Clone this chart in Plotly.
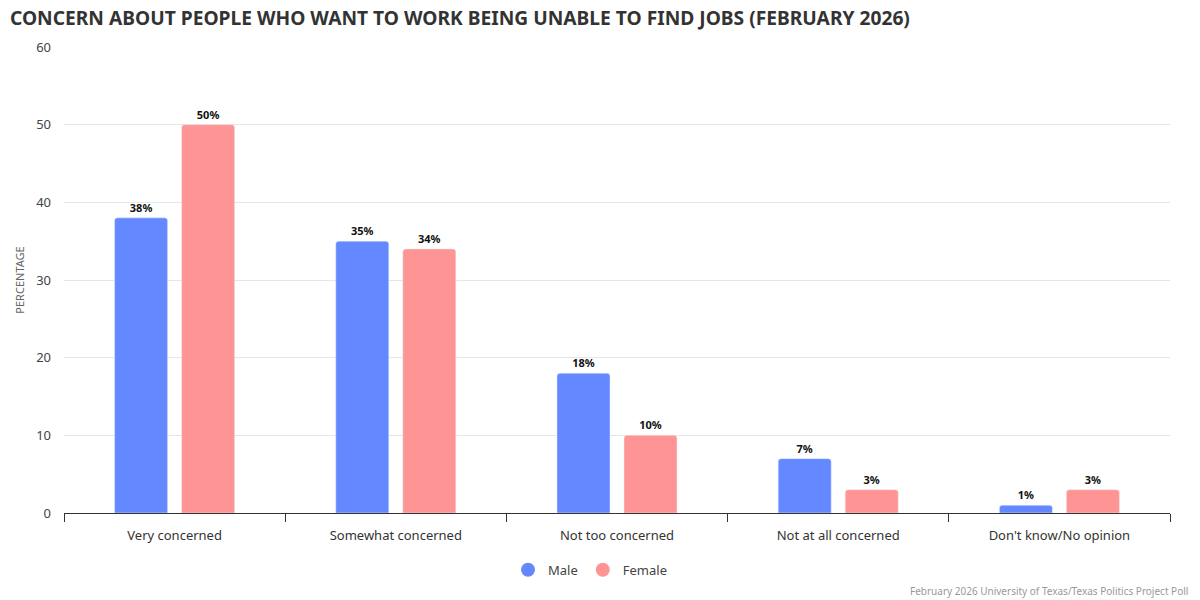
import plotly.graph_objects as go

categories = ["Very concerned", "Somewhat concerned", "Not too concerned", "Not at all concerned", "Don't know/No opinion"]
male = [38, 35, 18, 7, 1]
female = [50, 34, 10, 3, 3]
series_names = ["Male", "Female"]
colors = ["#6488FF", "#FF9494"]
y_ticks = [0, 10, 20, 30, 40, 50, 60]

FONT = "Noto Sans"

fig = go.Figure()
for name, vals, col in zip(series_names, [male, female], colors):
    fig.add_trace(go.Bar(
        x=categories, y=vals, name=name, marker_color=col,
        texttemplate="%{y}%", textposition="outside",
        textfont=dict(family=FONT, size=11, color="#111111", weight="bold"),
        cliponaxis=False, showlegend=False,
    ))
    fig.add_trace(go.Scatter(
        x=[None], y=[None], mode="markers", name=name,
        marker=dict(symbol="circle", size=14, color=col),
    ))

fig.update_layout(
    width=1200, height=600,
    paper_bgcolor="white", plot_bgcolor="white",
    margin=dict(l=64, r=30, t=47, b=87),
    font=dict(family=FONT, color="#444444"),
    title=dict(text="CONCERN ABOUT PEOPLE WHO WANT TO WORK BEING UNABLE TO FIND JOBS (FEBRUARY 2026)",
               x=10 / 1200, xanchor="left", y=1 - 18.5 / 600, yanchor="middle",
               font=dict(family=FONT, size=19.2, color="#333333", weight="bold")),
    barmode="group", bargap=0.394, bargroupgap=0.209, barcornerradius=3,
    legend=dict(orientation="h", x=0.4756, xanchor="center", y=-0.122, yanchor="middle",
                font=dict(family=FONT, size=13, color="#444444"), itemwidth=30),
)
fig.update_xaxes(
    showgrid=False, showline=True, linecolor="#333333", linewidth=1,
    ticks="outside", tickson="boundaries", ticklen=8, tickcolor="#333333",
    ticklabelstandoff=10,
    tickfont=dict(family=FONT, size=13, color="#333333"),
)
fig.update_yaxes(
    range=[0, 60], tickvals=y_ticks, showgrid=True, gridcolor="#e6e6e6",
    zeroline=False, showline=False, ticks="", ticklabelstandoff=12,
    tickfont=dict(family=FONT, size=13, color="#444444"),
    title=dict(text="PERCENTAGE", font=dict(family=FONT, size=11, color="#666666"), standoff=9),
)
fig.add_annotation(
    text="February 2026 University of Texas/Texas Politics Project Poll",
    xref="paper", yref="paper", x=1.018, y=-0.167, xanchor="right", yanchor="middle",
    showarrow=False, font=dict(family=FONT, size=10, color="#999999"),
)
fig.write_html("out.html", config={"displayModeBar": False},
               post_script="document.body.style.margin='0';")
